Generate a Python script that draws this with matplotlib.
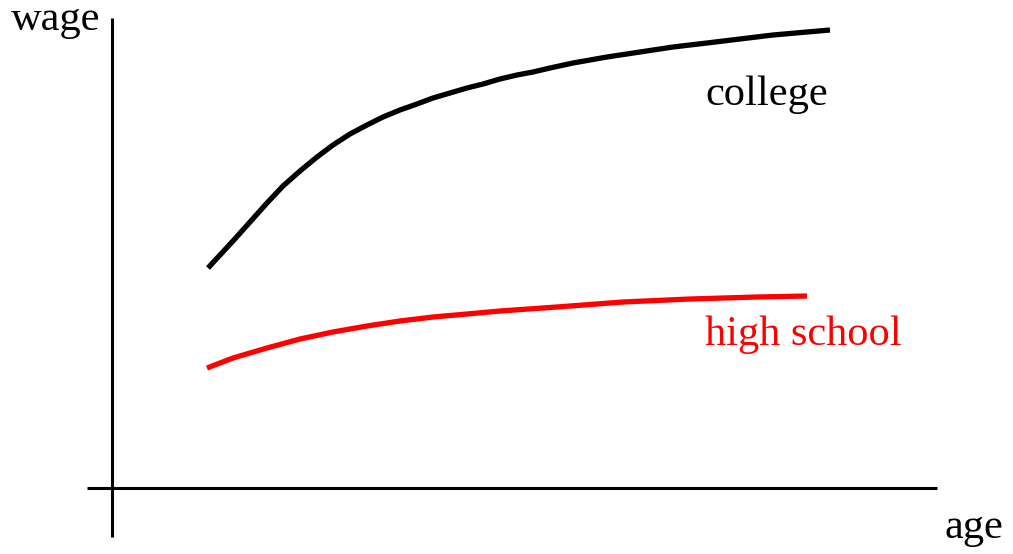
import numpy as np
import matplotlib
matplotlib.use('Agg')
import matplotlib.pyplot as plt

plt.rcParams['font.family'] = ['Liberation Serif', 'DejaVu Serif']

# Curves (age, wage in figure units)
college_age = [208, 220, 233, 250, 267, 283, 300, 317, 333, 350, 367, 383, 400,
               417, 433, 450, 467, 483, 500, 517, 533, 550, 573, 607, 640, 673,
               707, 740, 773, 807, 830]
college_wage = [286, 299, 313, 332, 351, 368, 383, 397, 409, 420, 429, 437, 444,
                450, 456, 461, 466, 470, 475, 479, 482, 486, 491, 497, 502, 507,
                511, 515, 519, 522, 524]

school_age = [207, 233, 267, 300, 333, 367, 400, 433, 467, 500, 557, 623, 690,
              757, 807]
school_wage = [186, 196, 206, 215, 222, 228, 233, 237, 240, 243, 247, 252, 255,
               257, 258]

fig = plt.figure(figsize=(10.13, 5.54), dpi=100)
ax = fig.add_axes([0, 0, 1, 1])
ax.set_xlim(0, 1013)
ax.set_ylim(0, 554)
ax.axis('off')

# axes drawn by hand
ax.plot([112, 112], [17, 536], color='black', lw=2.2, solid_capstyle='butt')
ax.plot([87, 937], [66, 66], color='black', lw=2.2, solid_capstyle='butt')

ax.plot(college_age, college_wage, color='black', lw=3.8,
        solid_capstyle='butt', solid_joinstyle='round')
ax.plot(school_age, school_wage, color='#ff0000', lw=3.8,
        solid_capstyle='butt', solid_joinstyle='round')

ax.text(705, 449, 'college', fontsize=30.5, color='black', va='baseline')
ax.text(705, 209, 'high school', fontsize=30.5, color='#ff0000', va='baseline')
ax.text(11, 524, 'wage', fontsize=30.5, color='black', va='baseline')
ax.text(945, 16, 'age', fontsize=30.5, color='black', va='baseline')

fig.savefig('out.png', dpi=100)
